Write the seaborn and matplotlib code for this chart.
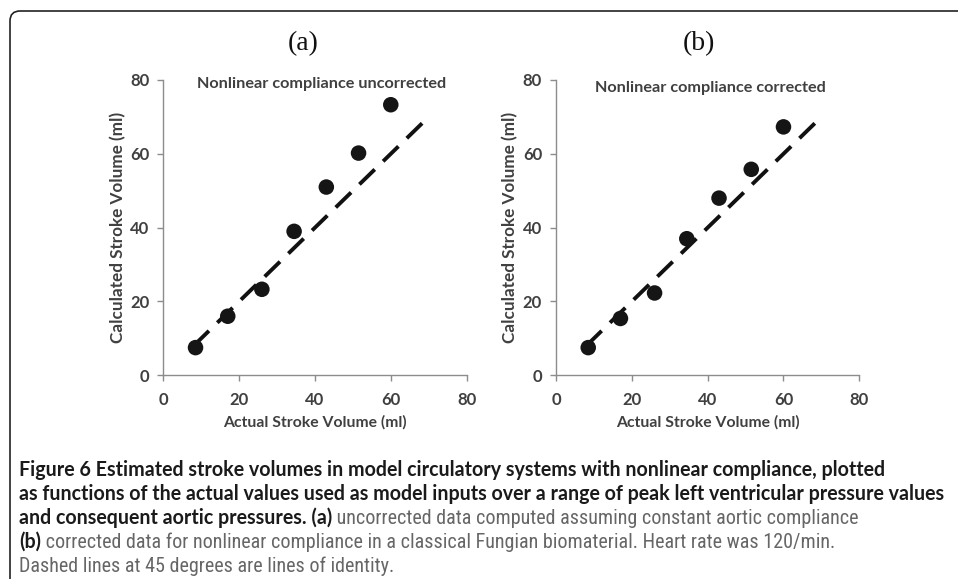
import matplotlib
matplotlib.use("Agg")
import matplotlib.pyplot as plt
import seaborn as sns
import pandas as pd
from matplotlib.path import Path
from matplotlib.patches import PathPatch

# values
actual_sv = [8.5, 17, 26, 34.5, 43, 51.5, 60]
calc_uncorrected = [7.5, 16, 23.3, 39, 51, 60.2, 73.3]
calc_corrected = [7.5, 15.4, 22.3, 37, 48, 55.8, 67.3]
identity_ends = [8, 69]
axis_ticks = [0, 20, 40, 60, 80]
panel_tags = ["(a)", "(b)"]
panel_titles = ["Nonlinear compliance uncorrected", "Nonlinear compliance corrected"]
xlabel = "Actual Stroke Volume (ml)"
ylabel = "Calculated Stroke Volume (ml)"

caption_lines = [
    [("Figure 6 Estimated stroke volumes in model circulatory systems with nonlinear compliance, plotted", True)],
    [("as functions of the actual values used as model inputs over a range of peak left ventricular pressure values", True)],
    [("and consequent aortic pressures. (a)", True),
     (" uncorrected data computed assuming constant aortic compliance", False)],
    [("(b)", True),
     (" corrected data for nonlinear compliance in a classical Fungian biomaterial. Heart rate was 120/min.", False)],
    [("Dashed lines at 45 degrees are lines of identity.", False)],
]

df = pd.DataFrame({
    "actual": actual_sv * 2,
    "calculated": calc_uncorrected + calc_corrected,
    "panel": ["a"] * len(actual_sv) + ["b"] * len(actual_sv),
})
ident = pd.DataFrame({"x": identity_ends, "y": identity_ends})

sns.set_theme(style="ticks")
plt.rcParams["font.family"] = ["Lato", "DejaVu Sans"]

W, H = 958, 579
fig = plt.figure(figsize=(W / 100, H / 100), dpi=100)

axis_grey = "#8c8c8c"
text_grey = "#404040"
bold_font = ["Lato", "DejaVu Sans"]
narrow_font = ["Roboto Condensed", "Liberation Sans Narrow", "DejaVu Sans Condensed", "Lato"]

lefts = [163.3, 556.0]
for i, panel in enumerate(["a", "b"]):
    ax = fig.add_axes([lefts[i] / W, 1 - 375.3 / H, 303.3 / W, 295.3 / H])
    sub = df[df["panel"] == panel]

    sns.lineplot(data=ident, x="x", y="y", ax=ax, color="#111111",
                 linewidth=2.8, zorder=2)
    ax.lines[-1].set_linestyle((0, (5.5, 3.0)))
    sns.scatterplot(data=sub, x="actual", y="calculated", ax=ax, s=125,
                    color="#151515", edgecolor="none", zorder=3)

    ax.set_xlim(0, 80)
    ax.set_ylim(0, 80)
    ax.set_xticks(axis_ticks)
    ax.set_yticks(axis_ticks)
    sns.despine(ax=ax)
    for side in ["left", "bottom"]:
        ax.spines[side].set_color(axis_grey)
        ax.spines[side].set_linewidth(1.0)
    ax.tick_params(direction="out", length=4, width=1, color=axis_grey,
                   labelcolor=text_grey, labelsize=12)
    ax.tick_params(axis="x", pad=8)
    ax.tick_params(axis="y", pad=6)
    for lab in ax.get_xticklabels() + ax.get_yticklabels():
        lab.set_fontweight("bold")

    ax.set_xlabel(xlabel, fontsize=11.3, fontweight="bold", color=text_grey, labelpad=5)
    ax.set_ylabel(ylabel, fontsize=12.3, fontweight="bold", color=text_grey, labelpad=3)
    ax.set_facecolor("none")

    title_pos = [(41.8, 79.0), (40.6, 77.9)][i]
    ax.text(title_pos[0], title_pos[1], panel_titles[i], ha="center", va="center",
            fontsize=11.7, fontweight="bold", color=text_grey)

# overlay for tags, frame and caption
cap = fig.add_axes([0, 0, 1, 1])
cap.set_xlim(0, W)
cap.set_ylim(H, 0)
cap.axis("off")
cap.patch.set_alpha(0)

tag_x = [303, 699]
for tx, tag in zip(tag_x, panel_tags):
    cap.text(tx, 44, tag, ha="center", va="center", fontsize=20,
             family=["Liberation Serif", "DejaVu Serif"], color="#111111")

frame = Path([(10, 579), (10, 21), (10, 11), (20, 11), (958, 11)],
             [Path.MOVETO, Path.LINETO, Path.CURVE3, Path.CURVE3, Path.LINETO])
cap.add_patch(PathPatch(frame, facecolor="none", edgecolor="#222222", linewidth=1.2))

y0, dy = 480, 24
for k, line in enumerate(caption_lines):
    prev = None
    for txt, bold in line:
        kw = dict(va="bottom", ha="left")
        if bold:
            kw.update(family=bold_font, fontweight="bold", color="#1a1a1a", fontsize=14.1)
        else:
            kw.update(family=narrow_font, fontweight="normal", color="#666666", fontsize=14.5)
        if prev is None:
            prev = cap.annotate(txt, xy=(19, y0 + k * dy), xycoords="data", **kw)
        else:
            prev = cap.annotate(txt, xy=(1, 0), xycoords=prev, **kw)

fig.savefig("out.png", dpi=100)
